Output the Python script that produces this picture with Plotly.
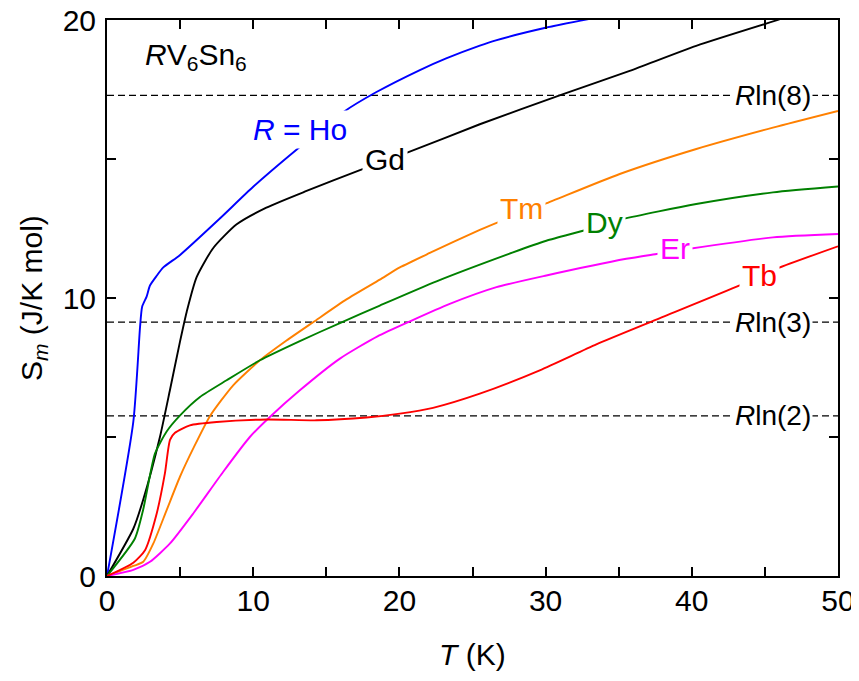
import math
import plotly.graph_objects as go

# ---- data ----
T_Ho = [0, 1.8, 2.26, 2.4, 2.71, 2.94, 3.4, 3.85, 5.0, 7.7, 10.0, 13.0, 16.2, 18.4, 21.4, 23.2, 25.5, 26.6, 30.0, 33.4]
S_Ho = [0, 5.55, 8.95, 9.68, 10.05, 10.45, 10.8, 11.1, 11.55, 12.85, 14.0, 15.35, 16.7, 17.4, 18.2, 18.62, 19.08, 19.27, 19.72, 20.08]

T_Gd = [0, 1.8, 2.48, 3.62, 4.31, 5.0, 5.45, 6.13, 7.27, 8.87, 10.9, 13.65, 17.3, 20.4, 25.5, 31.2, 35.75, 40.3, 46.0]
S_Gd = [0, 1.7, 2.75, 5.0, 6.7, 8.45, 9.5, 10.75, 11.8, 12.65, 13.25, 13.85, 14.6, 15.2, 16.25, 17.33, 18.17, 19.07, 20.02]

T_Tm = [0, 1.8, 2.48, 3.17, 4.08, 4.99, 5.9, 7.04, 8.63, 10.46, 12.28, 14.1, 16.38, 18.66, 20.03, 22.08, 25.5, 26.86, 29.94, 35.07, 40.31, 45.55, 50]
S_Tm = [0, 0.36, 0.51, 1.17, 2.37, 3.57, 4.59, 5.75, 6.86, 7.76, 8.47, 9.13, 9.95, 10.66, 11.1, 11.62, 12.45, 12.75, 13.38, 14.46, 15.36, 16.13, 16.73]

T_Dy = [0, 1.91, 2.48, 3.28, 4.08, 5.0, 6.36, 8.18, 10.46, 13.19, 15.93, 18.66, 22.54, 27.77, 30.05, 32.56, 35.3, 40.3, 45.55, 50]
S_Dy = [0, 1.35, 2.4, 4.4, 5.2, 5.78, 6.44, 7.04, 7.76, 8.45, 9.1, 9.73, 10.6, 11.64, 12.06, 12.42, 12.84, 13.38, 13.8, 14.01]

T_Er = [0, 1.8, 2.94, 4.31, 5.9, 7.95, 9.77, 11.14, 13.19, 15.93, 18.5, 20.8, 23.4, 26.64, 30.05, 35.52, 37.68, 39.85, 45.55, 50]
S_Er = [0, 0.22, 0.51, 1.17, 2.25, 3.75, 5.0, 5.72, 6.68, 7.82, 8.62, 9.18, 9.78, 10.39, 10.81, 11.41, 11.59, 11.77, 12.18, 12.3]

T_Tb = [0, 1.8, 2.6, 3.4, 3.96, 4.31, 4.65, 5.67, 7.5, 10.92, 14.33, 17.75, 20.03, 22.3, 25.5, 29.6, 33.47, 37.57, 43.27, 45.78, 50]
S_Tb = [0, 0.48, 0.93, 2.25, 3.69, 4.9, 5.15, 5.42, 5.54, 5.63, 5.6, 5.7, 5.84, 6.05, 6.56, 7.4, 8.33, 9.22, 10.45, 11.05, 11.86]

R_GAS = 8.314
ln_levels = [8, 3, 2]
ln_labels = ["<i>R</i>ln(8)", "<i>R</i>ln(3)", "<i>R</i>ln(2)"]

series = [
    ("Ho", T_Ho, S_Ho, "#0000FF", "<i>R</i> = Ho", 13.19, 16.07),
    ("Gd", T_Gd, S_Gd, "#000000", "Gd", 19.0, 14.97),
    ("Tm", T_Tm, S_Tm, "#FF8000", "Tm", 28.37, 13.22),
    ("Dy", T_Dy, S_Dy, "#008000", "Dy", 34.04, 12.72),
    ("Er", T_Er, S_Er, "#FF00FF", "Er", 38.82, 11.77),
    ("Tb", T_Tb, S_Tb, "#FF0000", "Tb", 44.63, 10.8),
]

FONT = "Liberation Sans, Arial, sans-serif"

fig = go.Figure()

for n in ln_levels:
    v = R_GAS * math.log(n)
    fig.add_trace(go.Scatter(x=[0, 50], y=[v, v], mode="lines",
                             line=dict(color="black", width=1.3, dash="7px,4px"),
                             showlegend=False, hoverinfo="skip"))

for name, t, s, col, lab, lx, ly in series:
    fig.add_trace(go.Scatter(x=t, y=s, mode="lines", name=name,
                             line=dict(color=col, width=1.9, shape="spline", smoothing=0.6),
                             showlegend=False))

annotations = []
for name, t, s, col, lab, lx, ly in series:
    annotations.append(dict(x=lx, y=ly, xref="x", yref="y", text=lab, showarrow=False,
                            font=dict(size=30, color=col, family=FONT),
                            bgcolor="white", borderpad=2,
                            xanchor="center", yanchor="middle"))
for n, lab in zip(ln_levels, ln_labels):
    annotations.append(dict(x=45.55, y=R_GAS * math.log(n), xref="x", yref="y", text=lab,
                            showarrow=False, font=dict(size=28, color="black", family=FONT),
                            bgcolor="white", borderpad=1,
                            xanchor="center", yanchor="middle"))
annotations.append(dict(x=6.1, y=18.7, xref="x", yref="y",
                        text="<i>R</i>V<sub>6</sub>Sn<sub>6</sub>", showarrow=False,
                        font=dict(size=30, color="black", family=FONT),
                        xanchor="center", yanchor="middle"))
# axis titles
annotations.append(dict(x=0.5, y=0, xref="paper", yref="paper", yshift=-78,
                        text="<i>T</i> (K)", showarrow=False,
                        font=dict(size=30, color="black", family=FONT),
                        xanchor="center", yanchor="middle"))
annotations.append(dict(x=0, y=0.5, xref="paper", yref="paper", xshift=-74,
                        text="S<sub><i>m</i></sub> (J/K mol)", showarrow=False, textangle=-90,
                        font=dict(size=30, color="black", family=FONT),
                        xanchor="center", yanchor="middle"))

xticks = [0, 5, 10, 15, 20, 25, 30, 35, 40, 45, 50]
yticks = [0, 5, 10, 15, 20]

axis_common = dict(showline=True, linecolor="black", linewidth=2, mirror="ticks",
                   ticks="inside", ticklen=9, tickwidth=1.5, tickcolor="black",
                   showgrid=False, zeroline=False, automargin=False,
                   ticklabeloverflow="allow",
                   tickfont=dict(size=30, color="black", family=FONT))

# page body has an 8px default margin, so the figure is 8px smaller each way
fig.update_layout(
    width=851, height=673,
    margin=dict(l=99, r=21, t=12, b=105),
    paper_bgcolor="white", plot_bgcolor="white",
    font=dict(family=FONT, color="black"),
    xaxis=dict(range=[0, 50], tickvals=xticks,
               ticktext=[str(v) if v % 10 == 0 else "" for v in xticks],
               ticklabelstandoff=-3, **axis_common),
    yaxis=dict(range=[0, 20], tickvals=yticks,
               ticktext=[str(v) if v % 10 == 0 else "" for v in yticks],
               ticklabelstandoff=3, **axis_common),
    annotations=annotations,
)

fig.write_html("out.html")
